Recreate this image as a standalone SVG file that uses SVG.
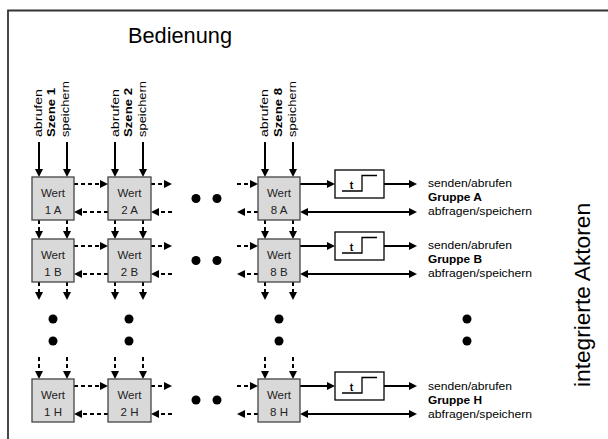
<svg xmlns="http://www.w3.org/2000/svg" width="608" height="439" viewBox="0 0 608 439">
<defs>
<marker id="ah" viewBox="0 0 8 8" refX="3" refY="4" markerWidth="8" markerHeight="8" markerUnits="userSpaceOnUse" orient="auto-start-reverse">
<path d="M0,0 L8,4 L0,8 z" fill="#000"/>
</marker>
<style>
.frame{fill:none;stroke:#333;stroke-width:1.8}
.box{fill:#d9d9d9;stroke:#444;stroke-width:1.3}
.tb{fill:#fff;stroke:#000;stroke-width:1.3}
.step{fill:none;stroke:#000;stroke-width:1.3}
.s{fill:none;stroke:#000;stroke-width:2;marker-end:url(#ah)}
.d{fill:none;stroke:#000;stroke-width:2;stroke-dasharray:4,3;marker-end:url(#ah)}
.dd{fill:none;stroke:#000;stroke-width:2;marker-start:url(#ah);marker-end:url(#ah)}
.bt{font-family:"Liberation Sans",Arial,sans-serif;font-size:11.5px;fill:#222;text-anchor:middle}
.sm{font-family:"Liberation Sans",Arial,sans-serif;font-size:10.5px;fill:#000}
.rt{font-family:"Liberation Sans",Arial,sans-serif;font-size:11px;fill:#000}
.b{font-weight:bold}
.big{font-family:"Liberation Sans",Arial,sans-serif;fill:#000}
.dot{fill:#000}
</style>
</defs>
<rect width="608" height="439" fill="#fff"/>
<path class="frame" d="M8,439 V10.5 H608"/>
<text class="big" x="128" y="43" font-size="21.5" textLength="104" lengthAdjust="spacingAndGlyphs">Bedienung</text>
<text class="big" transform="translate(590,387) rotate(-90)" font-size="22" textLength="184" lengthAdjust="spacingAndGlyphs">integrierte Aktoren</text>

<g id="scene1">
<text class="rt" transform="translate(42,137) rotate(-90)" textLength="48" lengthAdjust="spacingAndGlyphs">abrufen</text>
<text class="rt b" transform="translate(55,137) rotate(-90)" textLength="49" lengthAdjust="spacingAndGlyphs">Szene 1</text>
<text class="rt" transform="translate(69,137) rotate(-90)" textLength="56" lengthAdjust="spacingAndGlyphs">speichern</text>
</g>
<g id="scene2">
<text class="rt" transform="translate(119,137) rotate(-90)" textLength="48" lengthAdjust="spacingAndGlyphs">abrufen</text>
<text class="rt b" transform="translate(132,137) rotate(-90)" textLength="49" lengthAdjust="spacingAndGlyphs">Szene 2</text>
<text class="rt" transform="translate(146,137) rotate(-90)" textLength="56" lengthAdjust="spacingAndGlyphs">speichern</text>
</g>
<g id="scene8">
<text class="rt" transform="translate(268,137) rotate(-90)" textLength="48" lengthAdjust="spacingAndGlyphs">abrufen</text>
<text class="rt b" transform="translate(282,137) rotate(-90)" textLength="49" lengthAdjust="spacingAndGlyphs">Szene 8</text>
<text class="rt" transform="translate(296,137) rotate(-90)" textLength="56" lengthAdjust="spacingAndGlyphs">speichern</text>
</g>

<g id="connectors">
<path class="s" d="M39,142 V172"/><path class="s" d="M67,142 V172"/>
<path class="s" d="M115,142 V172"/><path class="s" d="M143,142 V172"/>
<path class="s" d="M265,142 V172"/><path class="s" d="M293,142 V172"/>
<path class="d" d="M39,220 V234"/><path class="d" d="M67,220 V234"/>
<path class="d" d="M115,220 V234"/><path class="d" d="M143,220 V234"/>
<path class="d" d="M265,220 V234"/><path class="d" d="M293,220 V234"/>
<path class="d" d="M39,282 V295"/><path class="d" d="M67,282 V295"/>
<path class="d" d="M115,282 V295"/><path class="d" d="M143,282 V295"/>
<path class="d" d="M265,282 V295"/><path class="d" d="M293,282 V295"/>
<path class="d" d="M39,357 V374"/><path class="d" d="M67,357 V374"/>
<path class="d" d="M115,357 V374"/><path class="d" d="M143,357 V374"/>
<path class="d" d="M265,357 V374"/><path class="d" d="M293,357 V374"/>
<path class="d" d="M74,184 H103"/><path class="d" d="M108,212 H79"/>
<path class="d" d="M151,184 H167"/><path class="d" d="M172,212 H156"/>
<path class="d" d="M237,184 H253"/><path class="d" d="M258,212 H242"/>
<path class="s" d="M300,184 H330"/><path class="s" d="M384,184 H412"/>
<path class="dd" d="M305,212 H412"/>
<path class="d" d="M74,246 H103"/><path class="d" d="M108,274 H79"/>
<path class="d" d="M151,246 H167"/><path class="d" d="M172,274 H156"/>
<path class="d" d="M237,246 H253"/><path class="d" d="M258,274 H242"/>
<path class="s" d="M300,246 H330"/><path class="s" d="M384,246 H412"/>
<path class="dd" d="M305,274 H412"/>
<path class="d" d="M74,386 H103"/><path class="d" d="M108,414 H79"/>
<path class="d" d="M151,386 H167"/><path class="d" d="M172,414 H156"/>
<path class="d" d="M237,386 H253"/><path class="d" d="M258,414 H242"/>
<path class="s" d="M300,386 H330"/><path class="s" d="M384,386 H412"/>
<path class="dd" d="M305,414 H412"/>
</g>

<g id="ellipsis">
<circle class="dot" cx="196" cy="198.5" r="4.5"/><circle class="dot" cx="217" cy="198.5" r="4.5"/>
<circle class="dot" cx="196" cy="260.5" r="4.5"/><circle class="dot" cx="217" cy="260.5" r="4.5"/>
<circle class="dot" cx="196" cy="400" r="4.5"/><circle class="dot" cx="217" cy="400" r="4.5"/>
<circle class="dot" cx="53" cy="319" r="4.5"/><circle class="dot" cx="53" cy="341" r="4.5"/>
<circle class="dot" cx="129" cy="319" r="4.5"/><circle class="dot" cx="129" cy="341" r="4.5"/>
<circle class="dot" cx="279" cy="319" r="4.5"/><circle class="dot" cx="279" cy="341" r="4.5"/>
<circle class="dot" cx="467" cy="319" r="4.5"/><circle class="dot" cx="467" cy="341" r="4.5"/>
</g>

<g id="w1A"><rect class="box" x="32" y="177" width="42" height="43"/><text class="bt" x="53" y="197">Wert</text><text class="bt" x="53" y="214">1 A</text></g>
<g id="w2A"><rect class="box" x="108" y="177" width="43" height="43"/><text class="bt" x="129.5" y="197">Wert</text><text class="bt" x="129.5" y="214">2 A</text></g>
<g id="w8A"><rect class="box" x="258" y="177" width="42" height="43"/><text class="bt" x="279" y="197">Wert</text><text class="bt" x="279" y="214">8 A</text></g>
<g id="w1B"><rect class="box" x="32" y="239" width="42" height="43"/><text class="bt" x="53" y="259">Wert</text><text class="bt" x="53" y="276">1 B</text></g>
<g id="w2B"><rect class="box" x="108" y="239" width="43" height="43"/><text class="bt" x="129.5" y="259">Wert</text><text class="bt" x="129.5" y="276">2 B</text></g>
<g id="w8B"><rect class="box" x="258" y="239" width="42" height="43"/><text class="bt" x="279" y="259">Wert</text><text class="bt" x="279" y="276">8 B</text></g>
<g id="w1H"><rect class="box" x="32" y="379" width="42" height="43"/><text class="bt" x="53" y="399">Wert</text><text class="bt" x="53" y="416">1 H</text></g>
<g id="w2H"><rect class="box" x="108" y="379" width="43" height="43"/><text class="bt" x="129.5" y="399">Wert</text><text class="bt" x="129.5" y="416">2 H</text></g>
<g id="w8H"><rect class="box" x="258" y="379" width="42" height="43"/><text class="bt" x="279" y="399">Wert</text><text class="bt" x="279" y="416">8 H</text></g>

<g id="tA"><rect class="tb" x="335" y="170" width="49" height="28"/><text class="sm b" x="351.5" y="189" text-anchor="middle" font-size="11">t</text><path class="step" d="M342,191 H362 V175.5 H377"/></g>
<g id="tB"><rect class="tb" x="335" y="232" width="49" height="28"/><text class="sm b" x="351.5" y="251" text-anchor="middle" font-size="11">t</text><path class="step" d="M342,253 H362 V237.5 H377"/></g>
<g id="tH"><rect class="tb" x="335" y="372" width="49" height="28"/><text class="sm b" x="351.5" y="391" text-anchor="middle" font-size="11">t</text><path class="step" d="M342,393 H362 V377.5 H377"/></g>

<g id="gA">
<text class="sm" x="428" y="187" textLength="84" lengthAdjust="spacingAndGlyphs">senden/abrufen</text>
<text class="sm b" x="428" y="201" textLength="54" lengthAdjust="spacingAndGlyphs">Gruppe A</text>
<text class="sm" x="428" y="215" textLength="104" lengthAdjust="spacingAndGlyphs">abfragen/speichern</text>
</g>
<g id="gB">
<text class="sm" x="428" y="249" textLength="84" lengthAdjust="spacingAndGlyphs">senden/abrufen</text>
<text class="sm b" x="428" y="263" textLength="54" lengthAdjust="spacingAndGlyphs">Gruppe B</text>
<text class="sm" x="428" y="277" textLength="104" lengthAdjust="spacingAndGlyphs">abfragen/speichern</text>
</g>
<g id="gH">
<text class="sm" x="428" y="390" textLength="84" lengthAdjust="spacingAndGlyphs">senden/abrufen</text>
<text class="sm b" x="428" y="404" textLength="54" lengthAdjust="spacingAndGlyphs">Gruppe H</text>
<text class="sm" x="428" y="418" textLength="104" lengthAdjust="spacingAndGlyphs">abfragen/speichern</text>
</g>
</svg>
